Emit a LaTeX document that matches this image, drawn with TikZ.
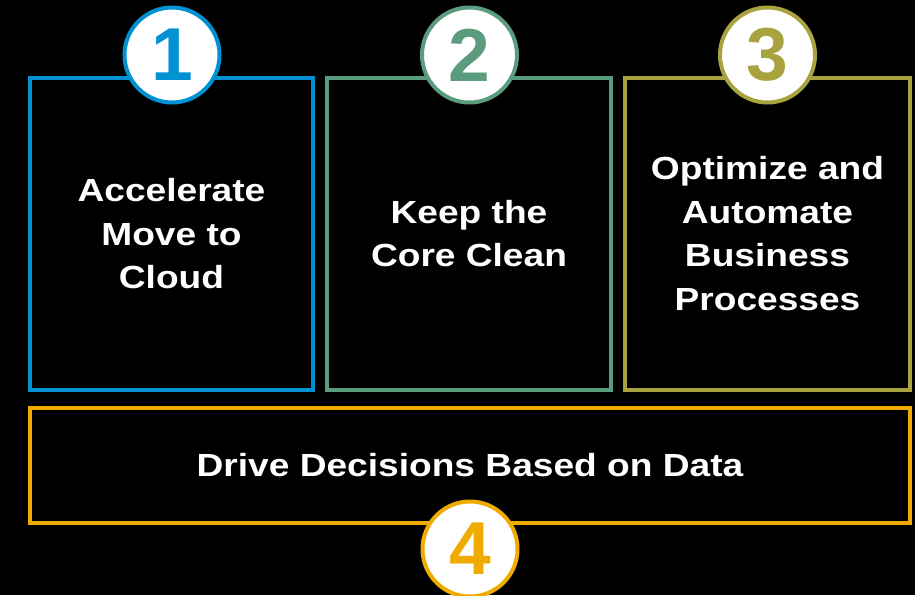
\documentclass[tikz,border=0pt]{standalone}
\usepackage{fontspec}
\setmainfont{Liberation Sans}[FakeStretch=1.16]
\newfontfamily\digitfont{Liberation Sans}
\definecolor{sapblue}{HTML}{0091D3}
\definecolor{sapgreen}{HTML}{5C9C7E}
\definecolor{sapolive}{HTML}{A8A23F}
\definecolor{sapgold}{HTML}{F0AB00}

\begin{document}
\begin{tikzpicture}[x=1pt,y=-1pt]
\tikzset{pillar/.style={draw=#1,line width=4pt,text=white,align=center,
	font=\bfseries\fontsize{32}{43.5}\selectfont}}
\tikzset{badge/.style={circle,draw=#1,line width=4pt,fill=white,text=#1,
	minimum size=95pt,inner sep=0pt,font=\digitfont\bfseries\fontsize{75}{75}\selectfont}}
\useasboundingbox (0,0) rectangle (915,595);
\fill[black] (0,0) rectangle (915,595);
% the three pillars
\node[pillar=sapblue,minimum width=283pt,minimum height=312pt] (cloud) at (171.5,233.7)
	{Accelerate\\Move to\\Cloud};
\node[pillar=sapgreen,minimum width=284pt,minimum height=312pt] (core) at (469,233.7)
	{Keep the\\Core Clean};
\node[pillar=sapolive,minimum width=285pt,minimum height=312pt] (process) at (767.5,233.7)
	{Optimize and\\Automate\\Business\\Processes};
% the base
\node[pillar=sapgold,minimum width=880pt,minimum height=115pt] (data) at (470,465.5)
	{Drive Decisions Based on Data};
% numbers
\node[badge=sapblue] (one) at (172,55) {1};
\node[badge=sapgreen] (two) at (469.5,55) {2};
\node[badge=sapolive] (three) at (767.5,55) {3};
\node[badge=sapgold] (four) at (470,549) {4};
\end{tikzpicture}
\end{document}
